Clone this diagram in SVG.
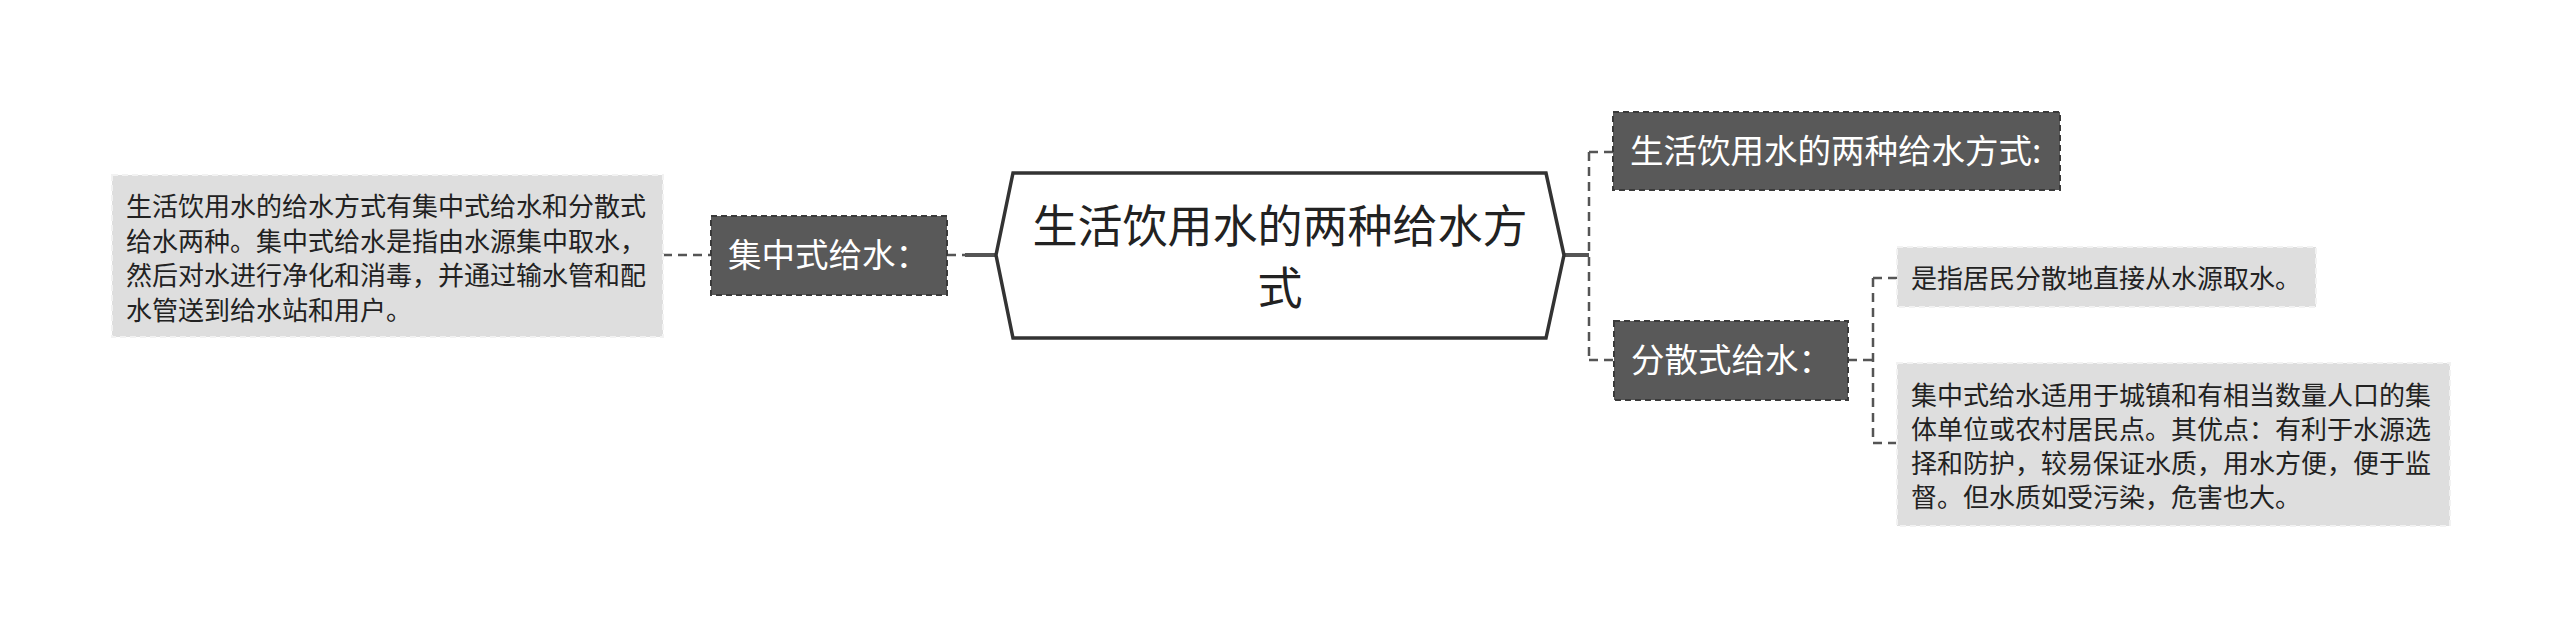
<svg xmlns="http://www.w3.org/2000/svg" width="2560" height="636" viewBox="0 0 2560 636">
<style>
.dark{fill:#595959;stroke:#3a3a3a;stroke-width:2;stroke-dasharray:6 4}
.light{fill:#dedede;stroke:#f2f2f2;stroke-width:2;stroke-dasharray:6 4}
.ntext{font-family:"Noto Sans CJK SC","Noto Sans",sans-serif;font-size:33.5px;fill:#ffffff}
.ltext{font-family:"Noto Sans CJK SC","Noto Sans",sans-serif;font-size:26px;fill:#222222}
.rtext{font-family:"Noto Sans CJK SC","Noto Sans",sans-serif;font-size:45px;fill:#222222}
.dash{fill:none;stroke:#555555;stroke-width:2.5;stroke-dasharray:9 6}
.solid{fill:none;stroke:#555555;stroke-width:4}
</style>
<rect width="2560" height="636" fill="#ffffff"/>
<g id="connectors">
<path class="dash" d="M663 255 H711"/>
<path class="dash" d="M947 255 H965"/>
<path class="solid" d="M965 255 H996"/>
<path class="solid" d="M1564 255 H1589"/>
<path class="dash" d="M1589 152 V360"/>
<path class="dash" d="M1589 152 H1613 M1589 360 H1614"/>
<path class="dash" d="M1848 360 H1873"/>
<path class="dash" d="M1873 278 V443"/>
<path class="dash" d="M1873 278 H1897 M1873 443 H1897"/>
</g>
<g id="root">
<polygon points="996,255 1013,173 1546,173 1564,255 1546,338 1013,338" fill="#ffffff" stroke="#333333" stroke-width="3.5"/>
<text class="rtext" x="1280" y="243" text-anchor="middle">生活饮用水的两种给水方</text>
<text class="rtext" x="1280" y="305" text-anchor="middle">式</text>
</g>
<g id="node-jizhong">
<rect class="dark" x="711" y="216" width="236" height="79"/>
<text class="ntext" x="728" y="267">集中式给水：</text>
</g>
<g id="node-jizhong-desc">
<rect class="light" x="112" y="175" width="551" height="162"/>
<text class="ltext" x="126" y="216">生活饮用水的给水方式有集中式给水和分散式</text>
<text class="ltext" x="126" y="250.5">给水两种。集中式给水是指由水源集中取水，</text>
<text class="ltext" x="126" y="285">然后对水进行净化和消毒，并通过输水管和配</text>
<text class="ltext" x="126" y="319.5">水管送到给水站和用户。</text>
</g>
<g id="node-title">
<rect class="dark" x="1613" y="112" width="447" height="78"/>
<text class="ntext" x="1630" y="163">生活饮用水的两种给水方式:</text>
</g>
<g id="node-fensan">
<rect class="dark" x="1614" y="321" width="234" height="79"/>
<text class="ntext" x="1631" y="372">分散式给水：</text>
</g>
<g id="node-fensan-desc1">
<rect class="light" x="1897" y="247" width="419" height="60"/>
<text class="ltext" x="1911" y="288">是指居民分散地直接从水源取水。</text>
</g>
<g id="node-fensan-desc2">
<rect class="light" x="1897" y="363" width="553" height="163"/>
<text class="ltext" x="1911" y="405">集中式给水适用于城镇和有相当数量人口的集</text>
<text class="ltext" x="1911" y="439">体单位或农村居民点。其优点：有利于水源选</text>
<text class="ltext" x="1911" y="473">择和防护，较易保证水质，用水方便，便于监</text>
<text class="ltext" x="1911" y="507">督。但水质如受污染，危害也大。</text>
</g>
</svg>
